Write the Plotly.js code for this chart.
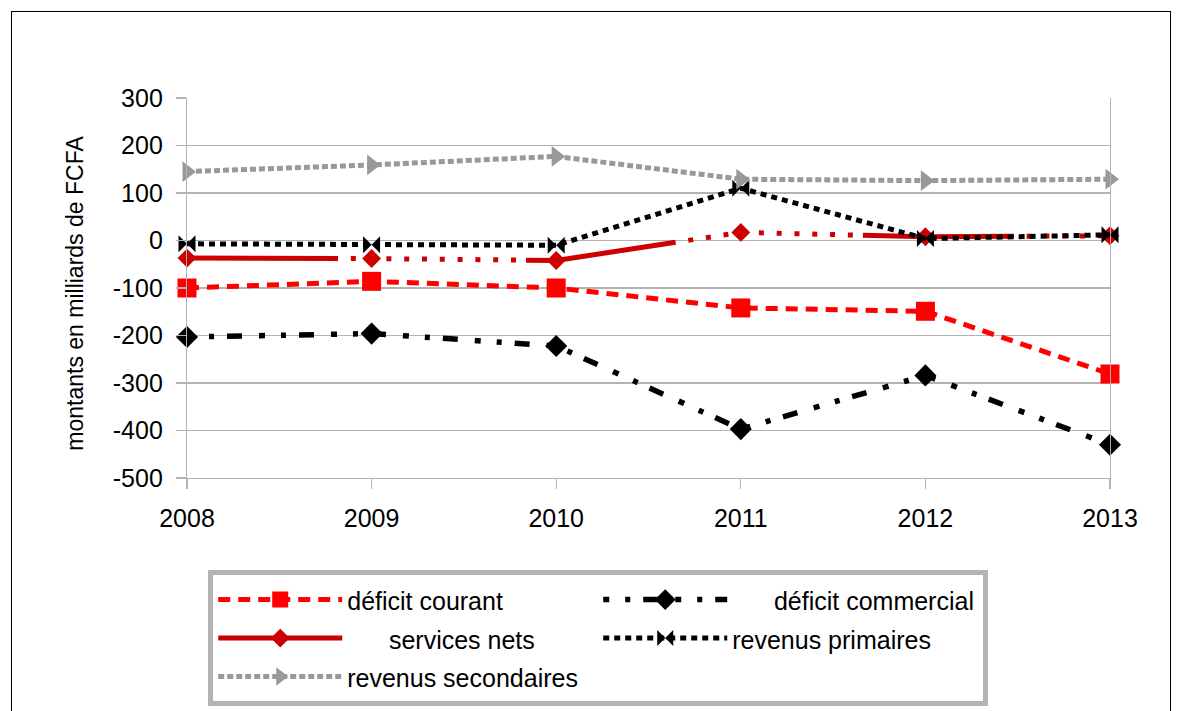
<!DOCTYPE html>
<html>
<head>
<meta charset="utf-8">
<script src="https://cdn.plot.ly/plotly-3.0.1.min.js"></script>
<style>
  html, body { margin: 0; padding: 0; background: #ffffff; }
  #wrap { position: relative; width: 1177px; height: 711px; overflow: hidden; }
  #chart { position: absolute; left: 0; top: 0; width: 1177px; height: 711px; }
  #frame { position: absolute; left: 11px; top: 11px; width: 1158px; height: 730px;
           border: 1px solid #000000; pointer-events: none; }
</style>
</head>
<body>
<div id="wrap">
  <div id="chart"></div>
  <div id="frame"></div>
</div>
<script>
// Années
const years = [2008, 2009, 2010, 2011, 2012, 2013];

// Montants en milliards de FCFA
const deficitCourant    = [-100, -86, -100, -142, -149, -281];
const deficitCommercial = [-203, -196, -222, -397, -284, -430];
const servicesNets      = [-37, -38, -42, 17, 8, 10];
const revenusPrimaires  = [-7, -9, -10, 110, 4, 12];
const revenusSecondaires = [145, 159, 177, 129, 126, 129];

// Axe vertical
const yTicks = [-500, -400, -300, -200, -100, 0, 100, 200, 300];

// Libellés de la légende
const seriesNames = ['déficit courant', 'déficit commercial', 'services nets',
                     'revenus primaires', 'revenus secondaires'];

const FONT = 'Liberation Sans, Arial, sans-serif';
const NB = '\u00a0';

// texte de légende en 25px dans une ligne plus haute (interligne plus large)
function legendLabel(txt, indent) {
  return '<span style="font-size:25px">' + NB.repeat(indent) + txt + '</span>';
}

// tiret long suivi d'une série de points
const servicesDash = ['151px'].concat(Array(10).fill(['12.8px', '5px']).flat(), ['10px']).join(',');

const traces = [
  {
    name: legendLabel(seriesNames[0], 0), x: years, y: deficitCourant,
    mode: 'lines+markers', cliponaxis: false,
    line: { color: '#ff0000', width: 5, dash: '12px,8px' },
    marker: { symbol: 'square', size: 19, color: '#ff0000' }
  },
  {
    name: legendLabel(seriesNames[1], 6), x: years, y: deficitCommercial,
    mode: 'lines+markers', cliponaxis: false,
    line: { color: '#000000', width: 5.5, dash: '6px,16px,5px,13px,15px,17px' },
    marker: { symbol: 'diamond', size: 17, color: '#000000' }
  },
  {
    name: legendLabel(seriesNames[2], 6), x: years, y: servicesNets,
    mode: 'lines+markers', cliponaxis: false,
    line: { color: '#cc0000', width: 5, dash: servicesDash },
    marker: { symbol: 'diamond', size: 14.5, color: '#cc0000' }
  },
  {
    name: legendLabel(seriesNames[3], 0), x: years, y: revenusPrimaires,
    mode: 'lines+markers', cliponaxis: false,
    line: { color: '#000000', width: 5, dash: '6px,5px' },
    marker: { symbol: 'bowtie', size: 17, color: '#000000' }
  },
  {
    name: legendLabel(seriesNames[4], 0), x: years, y: revenusSecondaires,
    mode: 'lines+markers', cliponaxis: false,
    line: { color: '#999999', width: 5, dash: '6px,3px' },
    marker: { symbol: 'triangle-right', size: 18, color: '#999999' }
  }
];

const layout = {
  width: 1177, height: 711,
  paper_bgcolor: 'rgba(0,0,0,0)',
  plot_bgcolor: '#ffffff',
  font: { family: FONT, size: 25, color: '#000000' },
  margin: { l: 187, r: 67, t: 98, b: 233, autoexpand: false },
  showlegend: true,
  xaxis: {
    range: [2008, 2013],
    tickmode: 'array', tickvals: years, ticktext: years.map(String),
    showgrid: false, zeroline: false,
    showline: true, linecolor: '#b3b3b3', linewidth: 1.2,
    ticks: 'outside', ticklen: 10, tickcolor: '#b3b3b3', tickwidth: 1.2,
    ticklabelstandoff: 8,
    tickfont: { family: FONT, size: 25, color: '#000000' },
    automargin: false
  },
  yaxis: {
    range: [-500, 300],
    tickmode: 'array', tickvals: yTicks, ticktext: yTicks.map(String),
    showgrid: true, gridcolor: '#b3b3b3', gridwidth: 1.2,
    zeroline: false,
    showline: true, mirror: true, linecolor: '#b3b3b3', linewidth: 1.2,
    ticks: 'outside', ticklen: 10, tickcolor: '#b3b3b3', tickwidth: 1.2,
    ticklabelstandoff: 8,
    tickfont: { family: FONT, size: 25, color: '#000000' },
    automargin: false
  },
  annotations: [{
    text: 'montants en milliards de FCFA',
    xref: 'paper', yref: 'paper',
    x: (75 - 187) / 923, y: 0.485,
    xanchor: 'center', yanchor: 'middle',
    textangle: -90, showarrow: false,
    font: { family: FONT, size: 23, color: '#000000' }
  }],
  legend: {
    orientation: 'h',
    x: 0.023, y: -0.243, xanchor: 'left', yanchor: 'top',
    bgcolor: '#ffffff', bordercolor: '#b3b3b3', borderwidth: 5,
    font: { family: FONT, size: 27.3, color: '#000000' },
    itemwidth: 124,
    entrywidth: 246, entrywidthmode: 'pixels',
    traceorder: 'normal',
    itemclick: false, itemdoubleclick: false
  }
};

Plotly.newPlot('chart', traces, layout, { staticPlot: true, displayModeBar: false });
</script>
</body>
</html>
